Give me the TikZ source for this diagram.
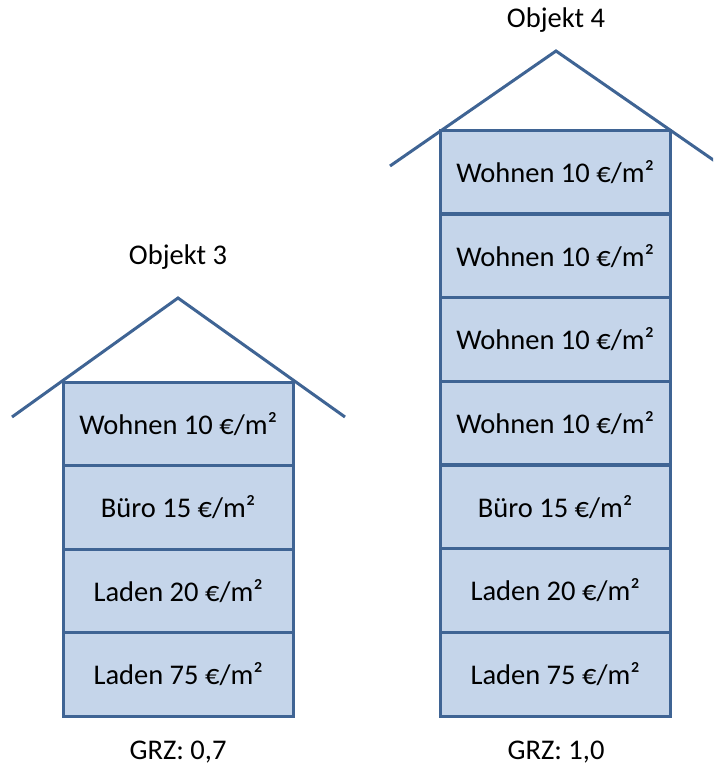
\documentclass[tikz,border=0pt]{standalone}
\usepackage{fontspec}
\setmainfont{Carlito}
\definecolor{edgeblue}{HTML}{3F6494}
\definecolor{floorfill}{HTML}{C5D5EA}
\begin{document}
\begin{tikzpicture}[x=1pt,y=-1pt,
  floorbox/.style={fill=floorfill,
    minimum width=230pt, minimum height=#1, inner sep=0pt,
    font=\fontsize{28.5}{31}\selectfont, anchor=north west},
  flooredge/.style={draw=edgeblue, line width=3pt},
  roofline/.style={draw=edgeblue, line width=3pt, line join=miter},
  caption/.style={font=\fontsize{28.5}{31}\selectfont}]
\useasboundingbox (0,0) rectangle (713,771);
\clip (0,0) rectangle (713,771);

% roofs
\coordinate (rA1) at (12,417);
\coordinate (rA2) at (178,298);
\coordinate (rA3) at (345,417);
\coordinate (rB1) at (390,166);
\coordinate (rB2) at (556,51);
\coordinate (rB3) at (722,166);
\draw[roofline] (rA1) -- (rA2) -- (rA3);
\draw[roofline] (rB1) -- (rB2) -- (rB3);

% building 3
\node[floorbox=83.5pt] (l1) at (63,382)   {Wohnen 10 €/m²};
\node[floorbox=83.5pt] (l2) at (63,465.5) {Büro 15 €/m²};
\node[floorbox=83.5pt] (l3) at (63,549)   {Laden 20 €/m²};
\node[floorbox=83.5pt] (l4) at (63,632.5) {Laden 75 €/m²};

% building 4
\node[floorbox=83.7pt] (r1) at (440,130)   {Wohnen 10 €/m²};
\node[floorbox=83.7pt] (r2) at (440,213.7) {Wohnen 10 €/m²};
\node[floorbox=83.7pt] (r3) at (440,297.4) {Wohnen 10 €/m²};
\node[floorbox=83.7pt] (r4) at (440,381.1) {Wohnen 10 €/m²};
\node[floorbox=83.7pt] (r5) at (440,464.8) {Büro 15 €/m²};
\node[floorbox=83.7pt] (r6) at (440,548.5) {Laden 20 €/m²};
\node[floorbox=83.7pt] (r7) at (440,632.2) {Laden 75 €/m²};

% floor outlines, drawn over all fills
\foreach \f in {l1,l2,l3,l4,r1,r2,r3,r4,r5,r6,r7}
  \draw[flooredge] (\f.north west) rectangle (\f.south east);

% captions
\node[caption] (t3) at (178,257) {Objekt 3};
\node[caption] (t4) at (556,20)  {Objekt 4};
\node[caption] (g3) at (178,752) {GRZ: 0,7};
\node[caption] (g4) at (556,752) {GRZ: 1,0};
\end{tikzpicture}
\end{document}
